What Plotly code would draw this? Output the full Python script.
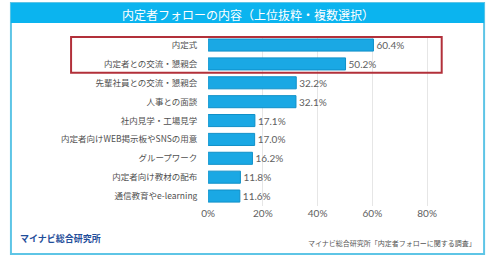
import plotly.graph_objects as go

categories = ["内定式", "内定者との交流・懇親会", "先輩社員との交流・懇親会", "人事との面談",
              "社内見学・工場見学", "内定者向けWEB掲示板やSNSの用意", "グループワーク",
              "内定者向け教材の配布", "通信教育やe-learning"]
values = [60.4, 50.2, 32.2, 32.1, 17.1, 17.0, 16.2, 11.8, 11.6]
tick_vals = [0, 20, 40, 60, 80]
tick_text = ["0%", "20%", "40%", "60%", "80%"]
title = "内定者フォローの内容（上位抜粋・複数選択）"
brand = "マイナビ総合研究所"
source = "マイナビ総合研究所「内定者フォローに関する調査」"

W, H = 490, 260
JP = "Noto Sans CJK JP"

def px(x):
    return x / W

def py(y):
    return 1 - y / H

fig = go.Figure(go.Bar(
    x=values, y=categories, orientation="h",
    marker=dict(color="#1aa8e4", line=dict(color="#1090c8", width=1)),
    width=0.64,
    text=[f"{v:.1f}%" for v in values], textposition="outside",
    textfont=dict(size=10, color="#606060", family="Lato"),
    cliponaxis=False,
))

fig.update_layout(
    width=W, height=H, margin=dict(l=0, r=0, t=0, b=0),
    paper_bgcolor="white", plot_bgcolor="white", showlegend=False,
    xaxis=dict(domain=[px(204), px(454)], range=[0, 90], tickvals=tick_vals, ticktext=tick_text,
               showgrid=True, gridcolor="#e6e6e6", gridwidth=1, zeroline=False,
               tickfont=dict(size=10, color="#606060", family="Lato"), ticks="", ticklen=0,
               fixedrange=True),
    yaxis=dict(domain=[py(205.5), py(35.6)], autorange="reversed", type="category",
               tickfont=dict(size=8.5, color="#505050", family=JP), ticks="outside",
               ticklen=8, tickcolor="rgba(0,0,0,0)", showgrid=False, fixedrange=True),
    font=dict(family=JP),
)

shapes = [
    dict(type="rect", xref="paper", yref="paper", x0=px(4), x1=px(484), y0=py(254), y1=py(3),
         line=dict(color="#5ec5e6", width=2), fillcolor="rgba(0,0,0,0)", layer="below"),
    dict(type="rect", xref="paper", yref="paper", x0=px(4), x1=px(484), y0=py(23), y1=py(3),
         line=dict(width=0), fillcolor="#0bb4ef", layer="below"),
    dict(type="rect", xref="paper", yref="y", x0=px(65), x1=px(441), y0=-0.43, y1=1.47,
         line=dict(color="#b2303a", width=2), fillcolor="rgba(0,0,0,0)", layer="above"),
]
fig.update_layout(shapes=shapes)

fig.add_annotation(text=title, xref="paper", yref="paper", x=px(244), y=py(14),
                   showarrow=False, xanchor="center", yanchor="middle",
                   font=dict(size=12, color="white", family=JP))
fig.add_annotation(text=f"<b>{brand}</b>", xref="paper", yref="paper", x=px(11), y=py(238),
                   showarrow=False, xanchor="left", yanchor="middle",
                   font=dict(size=9, color="#1f4e9a", family=JP))
fig.add_annotation(text=source, xref="paper", yref="paper", x=px(478), y=py(243),
                   showarrow=False, xanchor="right", yanchor="middle",
                   font=dict(size=7, color="#555555", family=JP))

fig.write_html("out.html")
